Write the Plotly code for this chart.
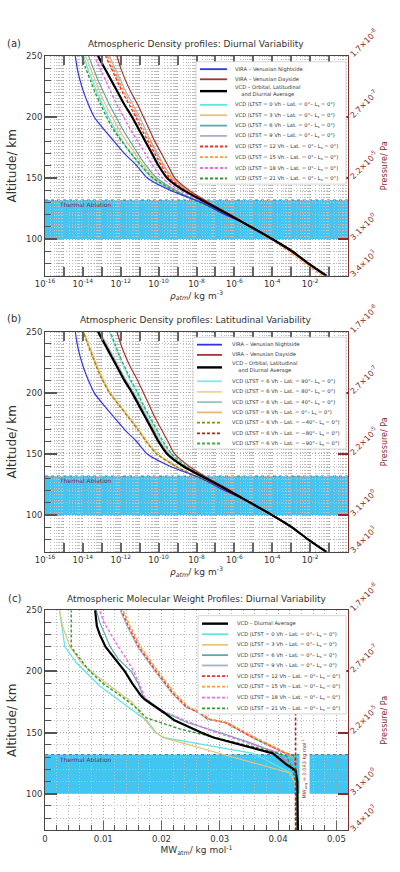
import plotly.graph_objects as go

# ---------------- DATA ----------------
alt_grid = [70, 80, 90, 100, 110, 120, 130, 140, 150, 160, 170, 180, 190, 200, 210, 220, 230, 240, 250]

# Panel (a): log10 of density (kg m^-3) at alt_grid
lg_vira_night = [-1.15, -2.1, -3.0, -4.05, -5.1, -6.5, -7.75, -9.4, -10.6, -11.15, -11.8, -12.35, -12.9, -13.4, -13.7, -13.95, -14.15, -14.3, -14.4]
lg_vira_day = [-1.15, -2.1, -3.0, -4.0, -5.1, -6.2, -7.35, -8.4, -9.15, -9.5, -9.85, -10.2, -10.5, -10.8, -11.1, -11.45, -11.75, -12.0, -12.2]
lg_vcd_avg = [-1.15, -2.1, -2.95, -4.0, -5.15, -6.3, -7.5, -8.7, -9.55, -10.0, -10.35, -10.7, -11.05, -11.4, -11.8, -12.15, -12.5, -12.85, -13.2]
lg_a_lt00 = [-1.15, -2.1, -3.0, -4.0, -5.2, -6.45, -7.9, -9.3, -10.35, -10.95, -11.45, -11.9, -12.3, -12.65, -12.95, -13.25, -13.5, -13.75, -13.95]
lg_a_lt03 = [-1.2, -2.15, -3.05, -4.0, -5.2, -6.45, -7.85, -9.2, -10.2, -10.8, -11.25, -11.7, -12.1, -12.45, -12.8, -13.1, -13.35, -13.6, -13.85]
lg_a_lt06 = [-1.15, -2.1, -3.0, -4.0, -5.15, -6.4, -7.8, -9.1, -10.1, -10.65, -11.1, -11.5, -11.9, -12.25, -12.6, -12.9, -13.2, -13.45, -13.7]
lg_a_lt09 = [-1.15, -2.1, -3.0, -4.0, -5.1, -6.2, -7.4, -8.5, -9.25, -9.7, -10.05, -10.4, -10.7, -11.0, -11.35, -11.7, -12.0, -12.3, -12.6]
lg_a_lt12 = [-1.2, -2.15, -3.0, -4.0, -5.1, -6.25, -7.45, -8.6, -9.4, -9.85, -10.2, -10.55, -10.9, -11.2, -11.55, -11.9, -12.2, -12.5, -12.8]
lg_a_lt15 = [-1.35, -2.3, -3.15, -4.1, -5.15, -6.25, -7.4, -8.55, -9.3, -9.75, -10.1, -10.45, -10.8, -11.1, -11.45, -11.8, -12.1, -12.4, -12.7]
lg_a_lt18 = [-1.15, -2.1, -3.0, -4.0, -5.15, -6.35, -7.65, -8.9, -9.8, -10.3, -10.7, -11.1, -11.5, -11.85, -12.2, -12.5, -12.8, -13.1, -13.4]
lg_a_lt21 = [-1.1, -2.05, -2.95, -4.0, -5.15, -6.4, -7.85, -9.25, -10.3, -10.9, -11.45, -11.95, -12.4, -12.75, -13.05, -13.35, -13.6, -13.85, -14.05]

# Panel (b): LTST = 6 Vh, latitude variability (log10 density)
lg_b_lat90 = [-1.15, -2.1, -3.0, -4.0, -5.1, -6.25, -7.45, -8.6, -9.35, -9.8, -10.15, -10.5, -10.85, -11.15, -11.5, -11.8, -12.1, -12.35, -12.6]
lg_b_lat80 = [-1.15, -2.1, -2.95, -4.0, -5.15, -6.4, -7.8, -9.1, -10.1, -10.65, -11.1, -11.6, -12.1, -12.6, -12.95, -13.25, -13.5, -13.75, -13.98]
lg_b_lat40 = [-1.15, -2.1, -2.95, -4.0, -5.15, -6.3, -7.5, -8.65, -9.45, -9.9, -10.25, -10.6, -10.95, -11.3, -11.7, -12.05, -12.4, -12.75, -13.1]
lg_b_lat00 = [-1.15, -2.1, -2.95, -4.0, -5.15, -6.4, -7.8, -9.05, -10.05, -10.6, -11.05, -11.55, -12.05, -12.55, -12.9, -13.2, -13.45, -13.7, -13.95]
lg_b_latm40 = [-1.15, -2.1, -2.95, -4.0, -5.15, -6.4, -7.8, -9.1, -10.1, -10.65, -11.1, -11.6, -12.1, -12.6, -12.95, -13.25, -13.5, -13.75, -13.98]
lg_b_latm80 = [-1.15, -2.1, -2.95, -4.0, -5.15, -6.3, -7.5, -8.7, -9.5, -9.97, -10.32, -10.67, -11.02, -11.37, -11.77, -12.12, -12.47, -12.82, -13.17]
lg_b_latm90 = [-1.15, -2.1, -3.0, -4.0, -5.1, -6.25, -7.45, -8.55, -9.3, -9.75, -10.1, -10.45, -10.8, -11.1, -11.45, -11.75, -12.05, -12.3, -12.55]

# Panel (c): molecular weight (kg mol^-1), each with its own altitudes
alt_c_avg = [70, 100, 110, 119, 124, 133, 142, 146, 150, 160, 166, 170, 177, 180, 190, 200, 210, 220, 230, 237, 250]
mw_c_avg = [0.0434, 0.0434, 0.0433, 0.0430, 0.0414, 0.0391, 0.0323, 0.0289, 0.0268, 0.0222, 0.0205, 0.0192, 0.0171, 0.0165, 0.0150, 0.0137, 0.0120, 0.0104, 0.0094, 0.0089, 0.0086]
alt_c_lt00 = [70, 100, 110, 116, 133, 140, 146, 150, 160, 174, 188, 207, 220, 237, 250]
mw_c_lt00 = [0.0432, 0.0432, 0.0430, 0.0426, 0.0357, 0.0277, 0.0202, 0.0191, 0.0174, 0.0134, 0.0094, 0.0054, 0.0034, 0.0029, 0.0025]
alt_c_lt03 = [70, 100, 110, 117, 145, 150, 161, 175, 190, 205, 220, 237, 250]
mw_c_lt03 = [0.0431, 0.0431, 0.0428, 0.0420, 0.0209, 0.0189, 0.0171, 0.0149, 0.0106, 0.0066, 0.0043, 0.0030, 0.0025]
alt_c_lt06 = [70, 100, 110, 118, 133, 142, 150, 158, 167, 179, 190, 200, 210, 220, 240, 250]
mw_c_lt06 = [0.0432, 0.0432, 0.0431, 0.0430, 0.0400, 0.0350, 0.0300, 0.0245, 0.0203, 0.0169, 0.0160, 0.0148, 0.0126, 0.0112, 0.0094, 0.0088]
alt_c_lt09 = [70, 100, 110, 120, 131, 133, 146, 158, 161, 166, 171, 182, 200, 220, 237, 250]
mw_c_lt09 = [0.0432, 0.0432, 0.0431, 0.0430, 0.0427, 0.0412, 0.0355, 0.0309, 0.0278, 0.0264, 0.0241, 0.0218, 0.0189, 0.0159, 0.0141, 0.0129]
alt_c_lt12 = [70, 100, 110, 120, 131, 133, 146, 158, 161, 166, 171, 182, 200, 220, 237, 250]
mw_c_lt12 = [0.0432, 0.0432, 0.0431, 0.0430, 0.0428, 0.0414, 0.0357, 0.0311, 0.0280, 0.0266, 0.0243, 0.0220, 0.0191, 0.0161, 0.0143, 0.0131]
alt_c_lt15 = [70, 100, 110, 120, 128, 133, 146, 158, 161, 166, 171, 182, 200, 220, 237, 250]
mw_c_lt15 = [0.0431, 0.0431, 0.0431, 0.0431, 0.0430, 0.0416, 0.0360, 0.0314, 0.0283, 0.0269, 0.0246, 0.0223, 0.0194, 0.0164, 0.0146, 0.0134]
alt_c_lt18 = [70, 100, 110, 118, 133, 142, 150, 158, 167, 177, 190, 200, 210, 220, 230, 240, 250]
mw_c_lt18 = [0.0432, 0.0432, 0.0431, 0.0429, 0.0405, 0.0345, 0.0295, 0.0250, 0.0205, 0.0172, 0.0162, 0.0152, 0.0140, 0.0126, 0.0113, 0.0101, 0.0094]
alt_c_lt21 = [70, 100, 110, 120, 131, 137, 153, 162, 169, 180, 190, 200, 214, 220, 250]
mw_c_lt21 = [0.0432, 0.0432, 0.0430, 0.0425, 0.0414, 0.0369, 0.0231, 0.0174, 0.0160, 0.0130, 0.0100, 0.0077, 0.0054, 0.0045, 0.0045]
mw_avg_value = 0.043
alt_avg_line = [70, 167]

# Axis ticks / labels
alt_ticks = [100, 150, 200, 250]
pressure_alts = [70, 100, 150, 200, 250]
pressure_labels = ["3.4×10<sup>3</sup>", "3.1×10<sup>0</sup>", "2.2×10<sup>-5</sup>", "2.7×10<sup>-7</sup>", "1.7×10<sup>-8</sup>"]
rho_label_exps = [-16, -14, -12, -10, -8, -6, -4, -2]
rho_decade_exps = list(range(-16, 1))
mw_ticks = [0, 0.01, 0.02, 0.03, 0.04, 0.05]
mw_ticklabels = ["0", "0.01", "0.02", "0.03", "0.04", "0.05"]
ablation_band = [100, 132]

# ---------------- STYLE / LAYOUT ----------------
W, H = 400, 872
ML, MR = 45, 52
PW = W - ML - MR
FONT = "DejaVu Sans"
DARKRED = "#8b2c2c"
BAND = "#42c6f1"
GRID_MAJ = "#a6a6a6"
GRID_MIN = "#bdbdbd"
GDASH = "1px,2px"

def px(xp):
    return (xp - ML) / PW

def py(yp):
    return (H - yp) / H

panels = {
    "a": dict(top=28, bot=256, xa="x", ya="y", ya2="y2", xa2="x4"),
    "b": dict(top=314.3, bot=542.7, xa="x2", ya="y3", ya2="y4", xa2="x5"),
    "c": dict(top=603.3, bot=832, xa="x3", ya="y5", ya2="y6", xa2=None),
}

def tolin(v):
    return [10 ** e for e in v]

def axname(a):
    return ("xaxis" if a[0] == "x" else "yaxis") + ("" if len(a) == 1 else a[1:])

S_NIGHT = dict(color="#3434e6", width=1.2, dash="solid")
S_DAY = dict(color="#a83232", width=1.2, dash="solid")
S_AVG = dict(color="#000000", width=2.2, dash="solid")
DSH = "3px,2px"

series_a = [
    ("VIRA – Venusian Nightside", lg_vira_night, S_NIGHT),
    ("VIRA – Venusian Dayside", lg_vira_day, S_DAY),
    ("VCD – Orbital, Latitudinal<br>and Diurnal Average", lg_vcd_avg, S_AVG),
    ("VCD (LTST = 0 Vh – Lat. = 0°– L<sub>s</sub> = 0°)", lg_a_lt00, dict(color="#5fe3e3", width=1.2, dash="solid")),
    ("VCD (LTST = 3 Vh – Lat. = 0°– L<sub>s</sub> = 0°)", lg_a_lt03, dict(color="#e9c27a", width=1.2, dash="solid")),
    ("VCD (LTST = 6 Vh – Lat. = 0°– L<sub>s</sub> = 0°)", lg_a_lt06, dict(color="#5fa9a6", width=1.2, dash="solid")),
    ("VCD (LTST = 9 Vh – Lat. = 0°– L<sub>s</sub> = 0°)", lg_a_lt09, dict(color="#aab3c4", width=1.2, dash="solid")),
    ("VCD (LTST = 12 Vh – Lat. = 0°– L<sub>s</sub> = 0°)", lg_a_lt12, dict(color="#ff2a2a", width=1.4, dash=DSH)),
    ("VCD (LTST = 15 Vh – Lat. = 0°– L<sub>s</sub> = 0°)", lg_a_lt15, dict(color="#ff9a2a", width=1.4, dash=DSH)),
    ("VCD (LTST = 18 Vh – Lat. = 0°– L<sub>s</sub> = 0°)", lg_a_lt18, dict(color="#ee6aee", width=1.4, dash=DSH)),
    ("VCD (LTST = 21 Vh – Lat. = 0°– L<sub>s</sub> = 0°)", lg_a_lt21, dict(color="#2e9a2e", width=1.4, dash=DSH)),
]
series_b = [
    ("VIRA – Venusian Nightside", lg_vira_night, S_NIGHT),
    ("VIRA – Venusian Dayside", lg_vira_day, S_DAY),
    ("VCD – Orbital, Latitudinal<br>and Diurnal Average", lg_vcd_avg, S_AVG),
    ("VCD (LTST = 6 Vh – Lat. = 90°– L<sub>s</sub> = 0°)", lg_b_lat90, dict(color="#80e8e8", width=1.3, dash="solid")),
    ("VCD (LTST = 6 Vh – Lat. = 80°– L<sub>s</sub> = 0°)", lg_b_lat80, dict(color="#f0d296", width=1.3, dash="solid")),
    ("VCD (LTST = 6 Vh – Lat. = 40°– L<sub>s</sub> = 0°)", lg_b_lat40, dict(color="#9cc4c4", width=1.3, dash="solid")),
    ("VCD (LTST = 6 Vh – Lat. = 0°– L<sub>s</sub> = 0°)", lg_b_lat00, dict(color="#f6b46a", width=1.3, dash="solid")),
    ("VCD (LTST = 6 Vh – Lat. = −40°– L<sub>s</sub> = 0°)", lg_b_latm40, dict(color="#8a8a10", width=1.3, dash=DSH)),
    ("VCD (LTST = 6 Vh – Lat. = −80°– L<sub>s</sub> = 0°)", lg_b_latm80, dict(color="#b02424", width=1.3, dash=DSH)),
    ("VCD (LTST = 6 Vh – Lat. = −90°– L<sub>s</sub> = 0°)", lg_b_latm90, dict(color="#3cb044", width=1.3, dash=DSH)),
]
series_c = [
    ("VCD – Diurnal Average", alt_c_avg, mw_c_avg, S_AVG),
    ("VCD (LTST = 0 Vh – Lat. = 0°– L<sub>s</sub> = 0°)", alt_c_lt00, mw_c_lt00, series_a[3][2]),
    ("VCD (LTST = 3 Vh – Lat. = 0°– L<sub>s</sub> = 0°)", alt_c_lt03, mw_c_lt03, series_a[4][2]),
    ("VCD (LTST = 6 Vh – Lat. = 0°– L<sub>s</sub> = 0°)", alt_c_lt06, mw_c_lt06, series_a[5][2]),
    ("VCD (LTST = 9 Vh – Lat. = 0°– L<sub>s</sub> = 0°)", alt_c_lt09, mw_c_lt09, series_a[6][2]),
    ("VCD (LTST = 12 Vh – Lat. = 0°– L<sub>s</sub> = 0°)", alt_c_lt12, mw_c_lt12, series_a[7][2]),
    ("VCD (LTST = 15 Vh – Lat. = 0°– L<sub>s</sub> = 0°)", alt_c_lt15, mw_c_lt15, series_a[8][2]),
    ("VCD (LTST = 18 Vh – Lat. = 0°– L<sub>s</sub> = 0°)", alt_c_lt18, mw_c_lt18, series_a[9][2]),
    ("VCD (LTST = 21 Vh – Lat. = 0°– L<sub>s</sub> = 0°)", alt_c_lt21, mw_c_lt21, series_a[10][2]),
]

fig = go.Figure()

def add_density(series, p):
    order = list(range(3, len(series))) + [0, 1, 2]
    for i in order:
        name, vals, st = series[i]
        fig.add_trace(go.Scatter(x=tolin(vals), y=alt_grid, mode="lines", name=name,
                                 line=dict(color=st["color"], width=st["width"], dash=st["dash"],
                                           shape="spline", smoothing=0.7),
                                 xaxis=p["xa"], yaxis=p["ya"], showlegend=False, hoverinfo="skip"))

add_density(series_a, panels["a"])
add_density(series_b, panels["b"])
pc = panels["c"]
for i in list(range(1, len(series_c))) + [0]:
    name, alts, vals, st = series_c[i]
    fig.add_trace(go.Scatter(x=vals, y=alts, mode="lines", name=name,
                             line=dict(color=st["color"], width=st["width"], dash=st["dash"]),
                             xaxis=pc["xa"], yaxis=pc["ya"], showlegend=False, hoverinfo="skip"))
fig.add_trace(go.Scatter(x=[mw_avg_value] * len(alt_avg_line), y=alt_avg_line, mode="lines",
                         line=dict(color="#a0282e", width=1.6, dash="3px,2px"),
                         xaxis=pc["xa"], yaxis=pc["ya"], showlegend=False, hoverinfo="skip"))
# empty traces to attach the secondary axes
for p in panels.values():
    fig.add_trace(go.Scatter(x=[None], y=[None], xaxis=p["xa"], yaxis=p["ya2"], showlegend=False, hoverinfo="skip"))
    if p["xa2"]:
        fig.add_trace(go.Scatter(x=[None], y=[None], xaxis=p["xa2"], yaxis=p["ya"], showlegend=False, hoverinfo="skip"))

shapes = []
annotations = []
for key, p in panels.items():
    dom = [py(p["bot"]), py(p["top"])]
    common_x = dict(domain=[0, 1], anchor=p["ya"], showline=True, linecolor="#444", linewidth=1,
                    tickfont=dict(size=8.5, color="#333", family=FONT), zeroline=False)
    xtitle = "<i>ρ</i><sub><i>atm</i></sub>/ kg m<sup>-3</sup>" if key != "c" else "MW<sub>atm</sub>/ kg mol<sup>-1</sup>"
    if key in ("a", "b"):
        xax = dict(type="log", range=[-16, 0],
                   tickvals=[10 ** e for e in rho_label_exps],
                   ticktext=["10<sup>%d</sup>" % e for e in rho_label_exps],
                   ticks="", showgrid=False, mirror=True,
                   minor=dict(dtick="D1", showgrid=True, gridcolor=GRID_MIN, griddash=GDASH, gridwidth=1, ticks=""))
        fig.update_layout({axname(p["xa2"]): dict(type="log", range=[-16, 0], overlaying=p["xa"], anchor=p["ya"],
                                                  tickvals=[10 ** e for e in rho_decade_exps], showticklabels=False,
                                                  ticks="inside", ticklen=9, tickwidth=1.5, tickcolor="#666",
                                                  mirror="ticks", showline=True, linecolor="#444", linewidth=1,
                                                  showgrid=True, gridcolor=GRID_MAJ, griddash=GDASH, gridwidth=1,
                                                  zeroline=False)})
    else:
        xax = dict(type="linear", range=[0, 0.052], tickvals=mw_ticks, ticktext=mw_ticklabels,
                   ticks="inside", ticklen=9, tickwidth=1.2, tickcolor="#666", mirror=True,
                   showgrid=True, gridcolor=GRID_MAJ, griddash=GDASH, gridwidth=1,
                   minor=dict(dtick=0.002, tick0=0, showgrid=True, gridcolor=GRID_MIN, griddash=GDASH,
                              gridwidth=1, ticks="inside", ticklen=5, tickcolor="#555", tickwidth=1))
    xax.update(common_x)
    xax["title"] = dict(text=xtitle, font=dict(size=9, color="#333", family=FONT), standoff=2)
    fig.update_layout({axname(p["xa"]): xax})
    fig.update_layout({axname(p["ya"]): dict(domain=dom, anchor=p["xa"], range=[70, 250], tickvals=alt_ticks,
                                ticks="inside", ticklen=12, tickwidth=1.5, tickcolor="#555",
                                showline=True, linecolor="#444", linewidth=1, mirror=False,
                                showgrid=True, gridcolor=GRID_MAJ, griddash=GDASH, gridwidth=1,
                                minor=dict(dtick=10, tick0=0, ticks="inside", ticklen=6, tickcolor="#555",
                                           tickwidth=1, showgrid=True, gridcolor=GRID_MIN, griddash=GDASH),
                                tickfont=dict(size=8.5, color="#333", family=FONT), zeroline=False,
                                title=dict(text="Altitude/ km", font=dict(size=12, color="#333", family=FONT), standoff=6))})
    fig.update_layout({axname(p["ya2"]): dict(overlaying=p["ya"], side="right", anchor=p["xa"], range=[70, 250],
                                 tickvals=pressure_alts, ticktext=pressure_labels, tickangle=-45,
                                 ticks="inside", ticklen=10, tickwidth=2, tickcolor=DARKRED,
                                 showline=True, linecolor=DARKRED, linewidth=1.3, showgrid=False, zeroline=False,
                                 tickfont=dict(size=8, color=DARKRED, family=FONT),
                                 title=dict(text="Pressure/ Pa", font=dict(size=8, color=DARKRED, family=FONT), standoff=2))})
    # Thermal ablation band
    shapes.append(dict(type="rect", xref=p["xa"] + " domain", yref=p["ya"], x0=0, x1=1,
                       y0=ablation_band[0], y1=ablation_band[1], fillcolor=BAND,
                       line=dict(width=0), layer="below"))
    shapes.append(dict(type="line", xref=p["xa"] + " domain", yref=p["ya"], x0=0, x1=1,
                       y0=ablation_band[1], y1=ablation_band[1], line=dict(color="#4a6070", width=0.8, dash="dot"),
                       layer="below"))
    annotations.append(dict(xref=p["xa"] + " domain", yref=p["ya"], x=0.04, y=ablation_band[1] - 3.8,
                            text="Thermal Ablation", showarrow=False, xanchor="left", yanchor="middle",
                            font=dict(size=6, color="#7a2a55", family=FONT)))

# panel titles
titles = {
    "a": ("(a)", "Atmospheric Density profiles: Diurnal Variability", 15, 196),
    "b": ("(b)", "Atmospheric Density profiles: Latitudinal Variability", 301, 196),
    "c": ("(c)", "Atmospheric Molecular Weight Profiles: Diurnal Variability", 591, 196),
}
for k, (lab, t, ypx, xc) in titles.items():
    annotations.append(dict(xref="paper", yref="paper", x=px(14), y=py(ypx), text=lab, showarrow=False,
                            xanchor="center", yanchor="middle", font=dict(size=10, color="#333", family=FONT)))
    annotations.append(dict(xref="paper", yref="paper", x=px(xc), y=py(ypx + 1), text=t, showarrow=False,
                            xanchor="center", yanchor="middle", font=dict(size=9, color="#333", family=FONT)))

# MW average label
annotations.append(dict(xref=pc["xa"], yref=pc["ya"], x=0.0445, y=120,
                        text="MW<sub>avg</sub> = 0.043 kg mol<sup>-1</sup>", textangle=-90, showarrow=False,
                        bgcolor="white", borderpad=1, font=dict(size=5, color=DARKRED, family=FONT)))

# manual legends
def legend_block(entries, box, x_line, x_text, ys):
    shapes.append(dict(type="rect", xref="paper", yref="paper", x0=px(box[0]), x1=px(box[1]),
                       y0=py(box[3]), y1=py(box[2]), fillcolor="white", line=dict(color="#cccccc", width=0.8),
                       layer="above"))
    for (name, st), yy in zip(entries, ys):
        w = 2.4 if st["width"] > 2 else 1.8
        shapes.append(dict(type="line", xref="paper", yref="paper", x0=px(x_line[0]), x1=px(x_line[1]),
                           y0=py(yy), y1=py(yy), line=dict(color=st["color"], width=w, dash=st["dash"]),
                           layer="above"))
        two = "<br>" in name
        annotations.append(dict(xref="paper", yref="paper", x=px(x_text), y=py(yy), text=name, showarrow=False,
                                xanchor="left", yanchor="middle", align="center" if two else "left",
                                font=dict(size=5.2, color="#333", family=FONT)))

legend_block([(s[0], s[2]) for s in series_a], (196, 346, 34, 161), (200, 227), 233,
             [41.7, 52.2, 64.5, 78.7, 89.5, 100.3, 111.0, 122.0, 133.0, 144.3, 155.2])
legend_block([(s[0], s[2]) for s in series_b], (193, 346, 320, 436), (197, 222), 230,
             [327.7, 338.3, 351.3, 365.7, 376.7, 387.3, 398.0, 408.7, 419.7, 430.3])
legend_block([(s[0], s[3]) for s in series_c], (198, 346, 609, 711), (202, 228), 235,
             [617.3, 628.3, 639.3, 650.0, 660.7, 671.7, 682.7, 694.0, 705.3])

fig.update_layout(width=W, height=H, margin=dict(l=ML, r=MR, t=0, b=0),
                  paper_bgcolor="white", plot_bgcolor="white", showlegend=False,
                  font=dict(family=FONT, color="#333"), shapes=shapes, annotations=annotations)

fig.write_html("out.html")
